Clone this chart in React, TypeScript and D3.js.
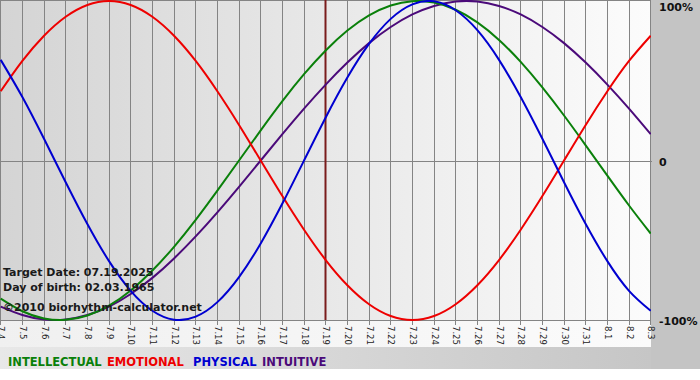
import React from "react";
import * as d3 from "d3";

const dayLabels = [
  "7.4", "7.5", "7.6", "7.7", "7.8", "7.9", "7.10", "7.11", "7.12", "7.13", "7.14",
  "7.15", "7.16", "7.17", "7.18", "7.19", "7.20", "7.21", "7.22", "7.23", "7.24",
  "7.25", "7.26", "7.27", "7.28", "7.29", "7.30", "7.31", "8.1", "8.2", "8.3",
];

const intellectual = [
  -0.866, -0.945, -0.99, -0.999, -0.972, -0.91, -0.815, -0.69, -0.541, -0.372, -0.189,
  0, 0.189, 0.372, 0.541, 0.69, 0.815, 0.91, 0.972, 0.999, 0.99,
  0.945, 0.866, 0.756, 0.618, 0.458, 0.282, 0.095, -0.095, -0.282, -0.458,
];
const emotional = [
  0.434, 0.624, 0.782, 0.901, 0.975, 1, 0.975, 0.901, 0.782, 0.624, 0.434,
  0.223, 0, -0.223, -0.434, -0.624, -0.782, -0.901, -0.975, -1, -0.975,
  -0.901, -0.782, -0.624, -0.434, -0.223, 0, 0.223, 0.434, 0.624, 0.782,
];
const physical = [
  0.631, 0.398, 0.136, -0.136, -0.398, -0.631, -0.817, -0.942, -0.998, -0.979, -0.888,
  -0.731, -0.52, -0.27, 0, 0.27, 0.52, 0.731, 0.888, 0.979, 0.998,
  0.942, 0.817, 0.631, 0.398, 0.136, -0.136, -0.398, -0.631, -0.817, -0.942,
];
const intuitive = [
  -0.916, -0.969, -0.997, -0.997, -0.969, -0.916, -0.837, -0.736, -0.614, -0.476, -0.325,
  -0.165, 0, 0.165, 0.325, 0.476, 0.614, 0.736, 0.837, 0.916, 0.969,
  0.997, 0.997, 0.969, 0.916, 0.837, 0.736, 0.614, 0.476, 0.325, 0.165,
];

const seriesNames = ["INTELLECTUAL", "EMOTIONAL", "PHYSICAL", "INTUITIVE"];
const yTickValues = [1, 0, -1];
const yTickLabels = ["100%", "0", "-100%"];
const targetIndex = 15;
const infoLines = [
  "Target Date: 07.19.2025",
  "Day of birth: 02.03.1965",
  "\u00a92010 biorhythm-calculator.net",
];

const colors: Record<string, string> = {
  INTELLECTUAL: "#0a800a",
  EMOTIONAL: "#ee0000",
  PHYSICAL: "#0000d0",
  INTUITIVE: "#4b0a7a",
};

export default function App() {
  const W = 700;
  const H = 380;
  const plotR = 651;
  const plotB = 320;
  const x = d3.scaleLinear().domain([0, dayLabels.length - 1]).range([0.7, 650.7]);
  const y = d3.scaleLinear().domain([-1, 1]).range([plotB, 1]);
  const line = d3
    .line<number>()
    .x((_, i) => x(i))
    .y((d) => y(d))
    .curve(d3.curveNatural);

  const series: [string, number[]][] = [
    ["INTUITIVE", intuitive],
    ["INTELLECTUAL", intellectual],
    ["EMOTIONAL", emotional],
    ["PHYSICAL", physical],
  ];
  const legendX = [8, 107, 193, 262];
  const font = "'DejaVu Sans', Verdana, sans-serif";
  const gx = (i: number) => Math.round(x(i) - 0.5) + 0.5;

  return (
    <svg
      width={W}
      height={H}
      style={{ position: "absolute", left: 0, top: 0, display: "block" }}
      fontFamily={font}
    >
      <defs>
        <linearGradient id="plotBg" x1="0" x2="1" y1="0" y2="0">
          <stop offset="0" stopColor="#d4d4d4" />
          <stop offset="1" stopColor="#fcfcfc" />
        </linearGradient>
        <linearGradient id="labelBg" x1="0" x2="1" y1="0" y2="0">
          <stop offset="0" stopColor="#f0f0f0" />
          <stop offset="1" stopColor="#fbfbfb" />
        </linearGradient>
        <linearGradient id="legendBg" x1="0" x2="1" y1="0" y2="0">
          <stop offset="0" stopColor="#e8e8e8" />
          <stop offset="1" stopColor="#c6c6c6" />
        </linearGradient>
        <clipPath id="plotClip">
          <rect x={0} y={0} width={plotR} height={plotB + 1} />
        </clipPath>
      </defs>
      <rect x={0} y={0} width={W} height={H} fill="#ffffff" />
      <rect x={0} y={0} width={plotR} height={plotB} fill="url(#plotBg)" />
      <rect x={0} y={plotB} width={plotR} height={27} fill="url(#labelBg)" />
      <rect x={0} y={347} width={plotR} height={22} fill="url(#legendBg)" />
      <rect x={plotR} y={0} width={W - plotR} height={369} fill="#c4c4c4" />

      {dayLabels.map((_, i) => (
        <line
          key={"g" + i}
          x1={gx(i)}
          x2={gx(i)}
          y1={0}
          y2={plotB + 5}
          stroke="#848484"
          strokeWidth={1}
        />
      ))}
      <line x1={0} x2={plotR} y1={0.5} y2={0.5} stroke="#848484" />
      <line x1={0} x2={plotR} y1={plotB + 0.5} y2={plotB + 0.5} stroke="#848484" />
      <line x1={0} x2={plotR + 1} y1={Math.round(y(0)) + 0.5} y2={Math.round(y(0)) + 0.5} stroke="#848484" />

      <line
        x1={gx(targetIndex)}
        x2={gx(targetIndex)}
        y1={0}
        y2={plotB}
        stroke="#7a1c1c"
        strokeWidth={2}
      />

      <g clipPath="url(#plotClip)">
        {series.map(([name, vals]) => (
          <path
            key={name}
            d={line(vals) || ""}
            fill="none"
            stroke={colors[name]}
            strokeWidth={2}
          />
        ))}
      </g>

      {infoLines.map((t, i) => (
        <text
          key={"info" + i}
          x={3}
          y={[276, 291, 311][i]}
          fontSize={11}
          fontWeight="bold"
          fill="#1a1a1a"
        >
          {t}
        </text>
      ))}

      {dayLabels.map((lab, i) => (
        <text
          key={"l" + i}
          transform={`translate(${gx(i)},${plotB + 6}) rotate(90)`}
          fontSize={8.5}
          dominantBaseline="central"
          textAnchor="start"
          fill="#222"
        >
          {lab}
        </text>
      ))}

      {yTickValues.map((v, i) => (
        <text
          key={"y" + i}
          x={659}
          y={Math.max(11, y(v) + 5)}
          fontSize={11}
          fontWeight="bold"
          fill="#111"
        >
          {yTickLabels[i]}
        </text>
      ))}

      {seriesNames.map((name, i) => (
        <text
          key={"lg" + name}
          x={legendX[i]}
          y={366}
          fontSize={11.5}
          fontWeight="bold"
          fill={colors[name]}
        >
          {name}
        </text>
      ))}
    </svg>
  );
}
